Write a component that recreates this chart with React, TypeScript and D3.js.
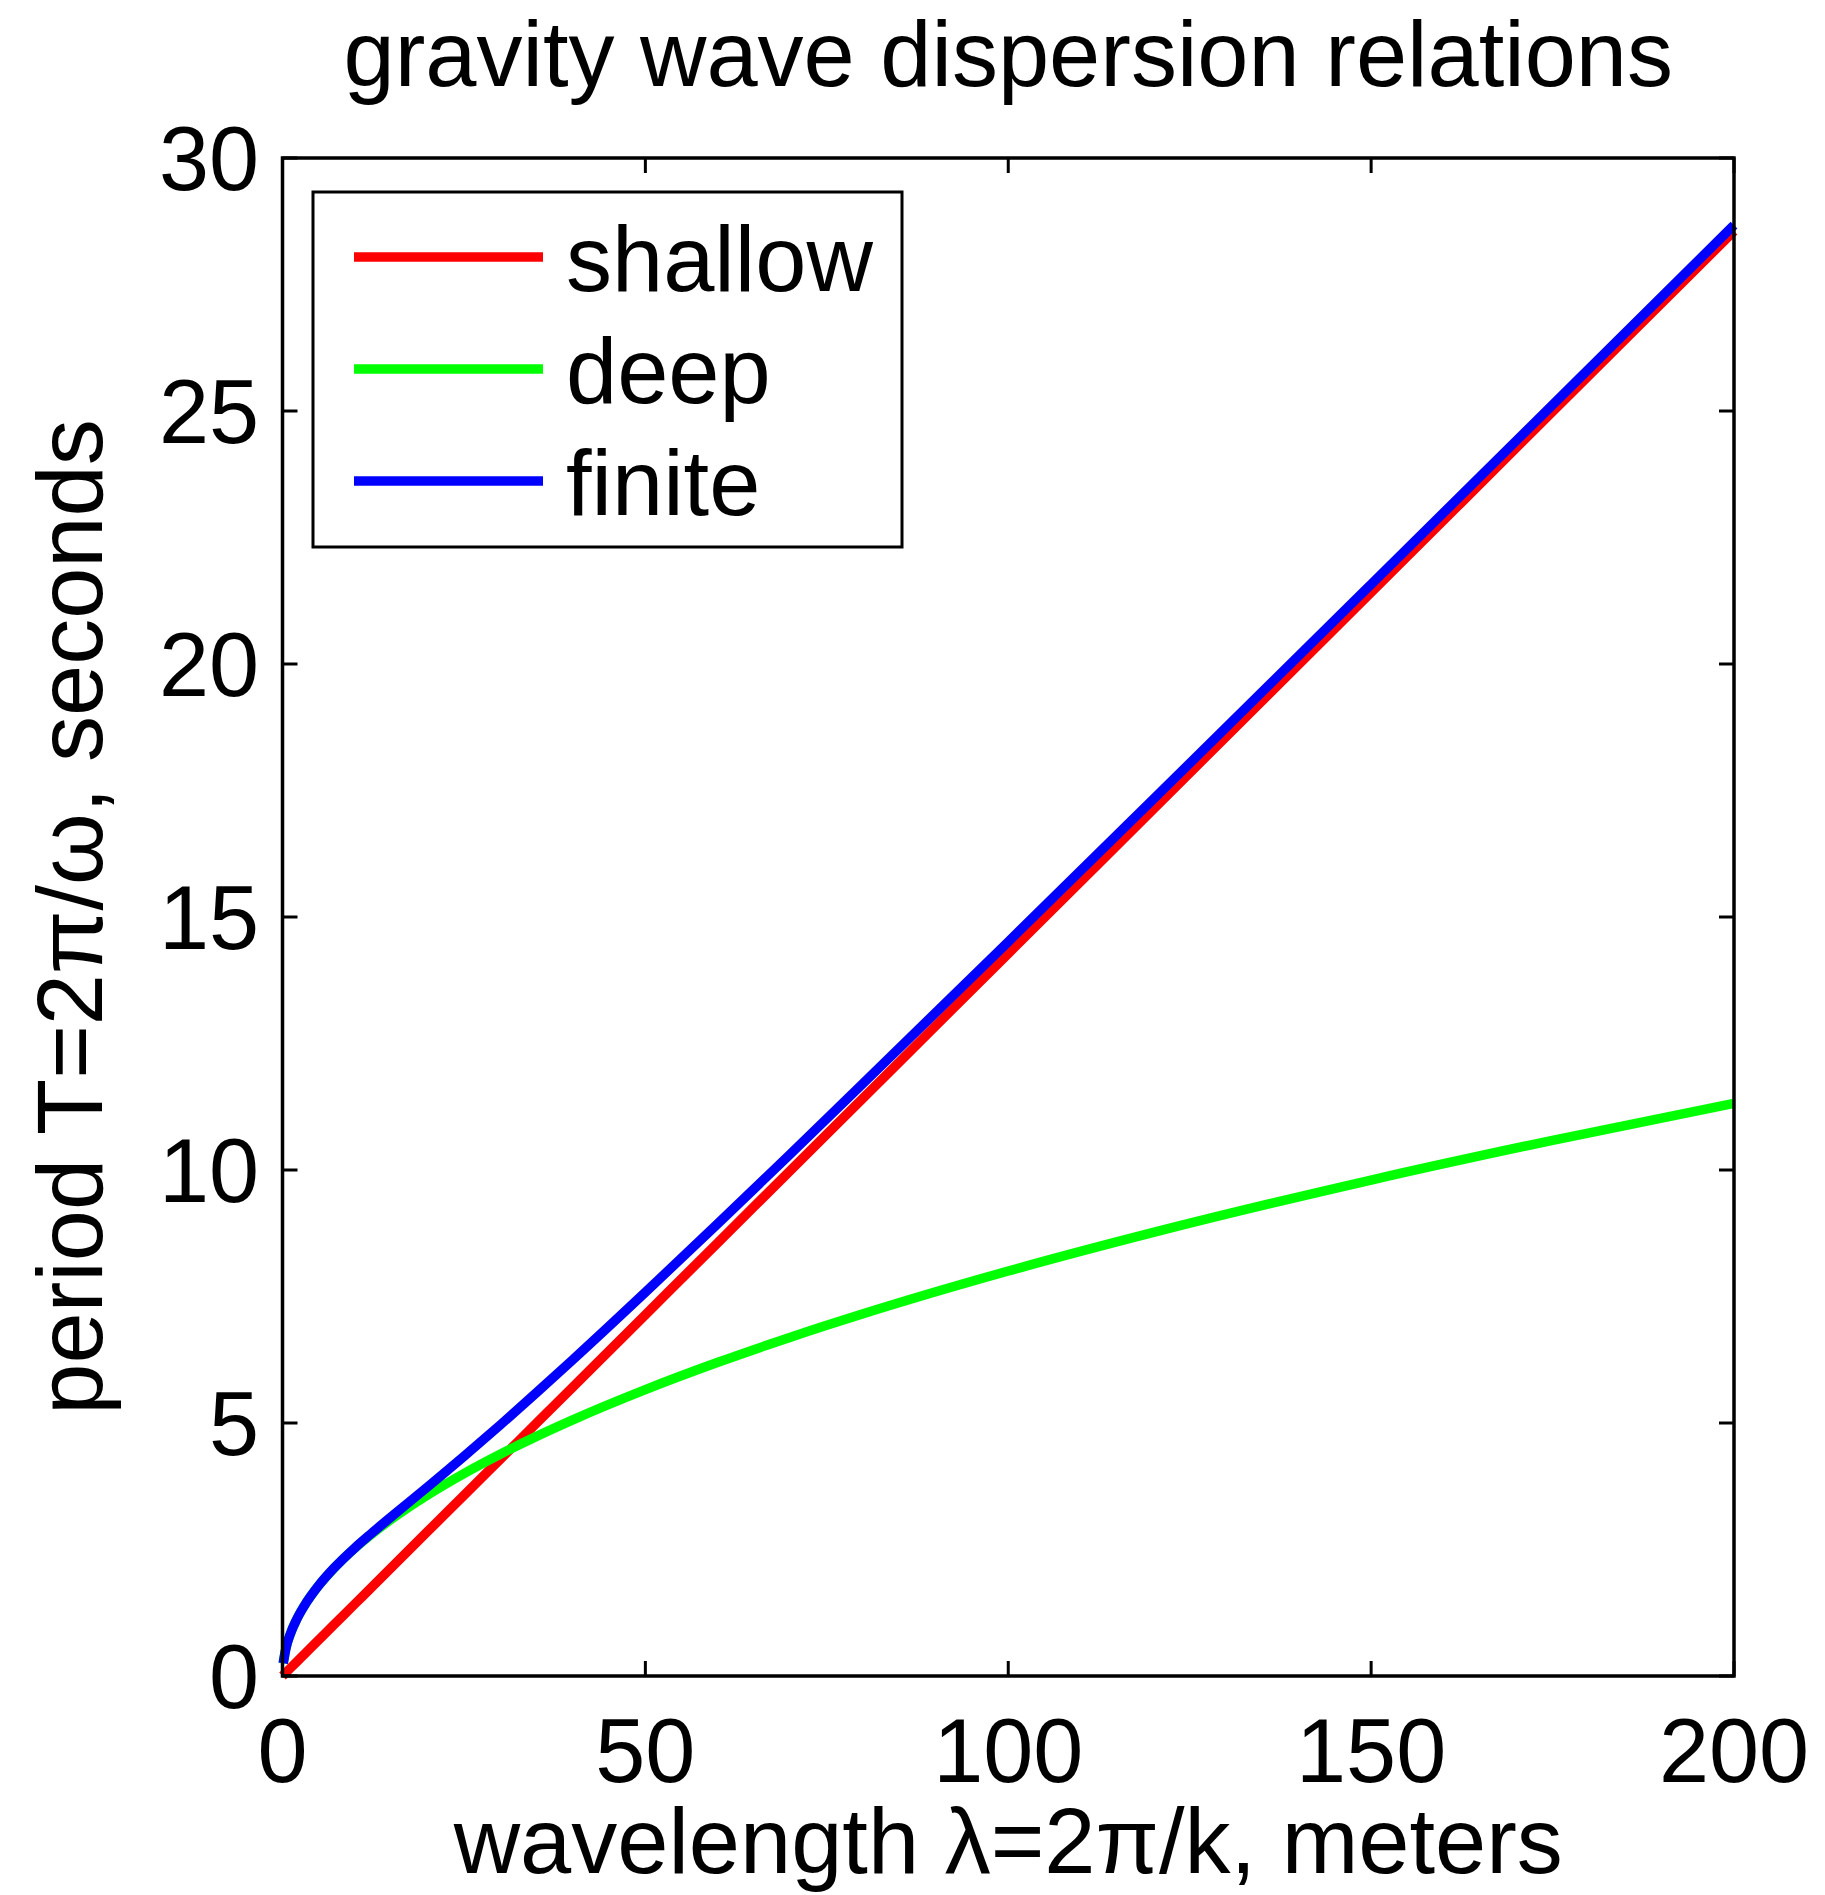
import { useEffect, useRef } from 'react';
import * as d3 from 'd3';

// values
const wavelengths = [0, 0.1, 0.5, 1, 2, 3, 5, 7, 10, 12, 15, 20, 25, 30, 35, 40, 50, 60, 70, 80, 100, 120, 150, 175, 200];
const shallowT = [0, 0.014, 0.071, 0.143, 0.286, 0.428, 0.714, 0.999, 1.428, 1.713, 2.142, 2.856, 3.569, 4.283, 4.997, 5.711, 7.139, 8.567, 9.994, 11.422, 14.278, 17.133, 21.416, 24.986, 28.555];
const deepT = [null, 0.253, 0.566, 0.8, 1.132, 1.386, 1.79, 2.117, 2.531, 2.772, 3.1, 3.579, 4.001, 4.383, 4.735, 5.062, 5.659, 6.199, 6.696, 7.158, 8.003, 8.767, 9.802, 10.587, 11.318];
const finiteT = [null, 0.253, 0.566, 0.8, 1.132, 1.386, 1.79, 2.118, 2.536, 2.787, 3.147, 3.737, 4.34, 4.961, 5.6, 6.25, 7.583, 8.943, 10.318, 11.711, 14.51, 17.328, 21.574, 25.121, 28.674];

const seriesNames = ['shallow', 'deep', 'finite'];
const seriesColors = ['#ff0000', '#00ff00', '#0000ff'];

const xTicks = [0, 50, 100, 150, 200];
const yTicks = [0, 5, 10, 15, 20, 25, 30];

const FONT = '"Liberation Sans", Arial, Helvetica, sans-serif';

export default function App() {
  const svgRef = useRef<SVGSVGElement>(null);

  useEffect(() => {
    if (!svgRef.current) return;
    const svg = d3.select(svgRef.current);
    svg.selectAll('*').remove();

    const left = 282.5, right = 1734, top = 158, bottom = 1676;

    const x = d3.scaleLinear().domain([0, 200]).range([left, right]);
    const y = d3.scaleLinear().domain([0, 30]).range([bottom, top]);

    svg.append('rect')
      .attr('width', 1825).attr('height', 1895).attr('fill', '#fff');

    // curves
    const allSeries = [shallowT, deepT, finiteT];
    const line = d3.line<[number, number | null]>()
      .defined(d => d[1] !== null)
      .x(d => x(d[0]))
      .y(d => y(d[1] as number))
      .curve(d3.curveMonotoneX);

    allSeries.forEach((vals, i) => {
      const pts = wavelengths.map((w, j) => [w, vals[j]] as [number, number | null]);
      svg.append('path')
        .attr('d', line(pts))
        .attr('fill', 'none')
        .attr('stroke', seriesColors[i])
        .attr('stroke-width', 9.5)
        .attr('stroke-linejoin', 'round');
    });

    // box
    svg.append('rect')
      .attr('x', left).attr('y', top)
      .attr('width', right - left).attr('height', bottom - top)
      .attr('fill', 'none').attr('stroke', '#000').attr('stroke-width', 3.5);

    const tickLen = 15;
    const ticks = svg.append('g').attr('stroke', '#000').attr('stroke-width', 3);
    xTicks.forEach(t => {
      ticks.append('line').attr('x1', x(t)).attr('x2', x(t)).attr('y1', bottom).attr('y2', bottom - tickLen);
      ticks.append('line').attr('x1', x(t)).attr('x2', x(t)).attr('y1', top).attr('y2', top + tickLen);
    });
    yTicks.forEach(t => {
      ticks.append('line').attr('x1', left).attr('x2', left + tickLen).attr('y1', y(t)).attr('y2', y(t));
      ticks.append('line').attr('x1', right).attr('x2', right - tickLen).attr('y1', y(t)).attr('y2', y(t));
    });

    // tick labels
    svg.append('g').selectAll('text')
      .data(xTicks).enter().append('text')
      .attr('x', d => x(d)).attr('y', 1782)
      .attr('text-anchor', 'middle')
      .style('font-family', FONT).style('font-size', '90px')
      .text(d => d);

    svg.append('g').selectAll('text')
      .data(yTicks).enter().append('text')
      .attr('x', 259).attr('y', d => y(d) + 32)
      .attr('text-anchor', 'end')
      .style('font-family', FONT).style('font-size', '90px')
      .text(d => d);

    // title and axis labels
    svg.append('text')
      .attr('x', (left + right) / 2).attr('y', 86)
      .attr('text-anchor', 'middle')
      .style('font-family', FONT).style('font-size', '92px')
      .text('gravity wave dispersion relations');

    svg.append('text')
      .attr('x', (left + right) / 2).attr('y', 1873)
      .attr('text-anchor', 'middle')
      .style('font-family', FONT).style('font-size', '92px')
      .text('wavelength λ=2π/k, meters');

    svg.append('text')
      .attr('transform', `translate(102, ${(top + bottom) / 2}) rotate(-90)`)
      .attr('text-anchor', 'middle')
      .style('font-family', FONT).style('font-size', '92px')
      .text('period T=2π/ω, seconds');

    // legend
    const legend = svg.append('g');
    legend.append('rect')
      .attr('x', 313).attr('y', 192).attr('width', 589).attr('height', 355)
      .attr('fill', '#fff').attr('stroke', '#000').attr('stroke-width', 3);

    const rowY = [257, 369, 481];
    seriesNames.forEach((name, i) => {
      legend.append('line')
        .attr('x1', 354).attr('x2', 543).attr('y1', rowY[i]).attr('y2', rowY[i])
        .attr('stroke', seriesColors[i]).attr('stroke-width', 9.5);
      legend.append('text')
        .attr('x', 566).attr('y', rowY[i] + 34)
        .style('font-family', FONT).style('font-size', '92px')
        .text(name);
    });
  }, []);

  return (
    <svg
      ref={svgRef}
      width={1825}
      height={1895}
      style={{ position: 'absolute', left: 0, top: 0, display: 'block' }}
    />
  );
}
